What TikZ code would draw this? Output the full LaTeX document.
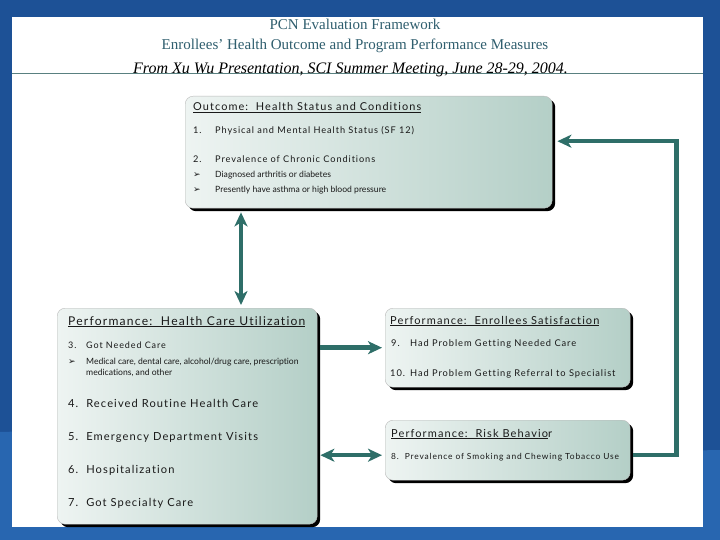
\documentclass[tikz,border=0pt]{standalone}
\usepackage{fontspec}
\setmainfont{Liberation Serif}
\newfontfamily\boxfont[LetterSpace=10,Ligatures={CommonOff,RareOff}]{Lato}
\newfontfamily\plainfont[Ligatures={CommonOff,RareOff}]{Lato}
\newfontfamily\symfont{DejaVu Sans}
\usepackage{tikz}
\usetikzlibrary{positioning,shadows,arrows.meta}
\definecolor{slideblue}{HTML}{1D5196}
\definecolor{lowblue}{HTML}{2866B0}
\definecolor{titleteal}{HTML}{2F5E6E}
\definecolor{boxlight}{HTML}{EEF4F2}
\definecolor{boxdark}{HTML}{B4CFC7}
\definecolor{linkteal}{HTML}{2E6E68}
\newcommand{\bul}{{\symfont\char"27A2}}

\begin{document}
\begin{tikzpicture}[x=1pt,y=-1pt]
\tikzstyle{panel}=[rectangle, rounded corners=8pt, draw=gray!55, thin, inner sep=0pt, anchor=north west, left color=boxlight, right color=boxdark, drop shadow={shadow xshift=3pt, shadow yshift=-3pt, fill=black, opacity=1}]
\tikzstyle{txt}=[anchor=base west, inner sep=0pt, text=black!90]
\tikzstyle{title}=[anchor=base, inner sep=0pt, text=titleteal, font=\fontsize{15}{17}\selectfont]
\tikzstyle{link}=[line width=4.5pt, draw=linkteal, {Stealth[length=14pt,width=13pt,inset=4pt]}-{Stealth[length=14pt,width=13pt,inset=4pt]}]
\tikzstyle{linkto}=[line width=4.5pt, draw=linkteal, -{Stealth[length=14pt,width=13pt,inset=4pt]}]
\useasboundingbox (0,0) rectangle (720,540);
% slide background
\fill[slideblue] (0,0) rectangle (720,540);
\fill[lowblue] (0,432) .. controls (250,425) and (500,455) .. (720,450) -- (720,540) -- (0,540) -- cycle;
\fill[white] (12,17) rectangle (703,527);
\draw[gray!70!teal, thin] (12,73) -- (703,73);

% titles
\node[title] (t1) at (355,30) {PCN Evaluation Framework};
\node[title] (t2) at (355,50) {Enrollees' Health Outcome and Program Performance Measures};
\node[anchor=base west, inner sep=0pt, font=\fontsize{16}{18}\selectfont\itshape] (src) at (133,74) {From Xu Wu Presentation, SCI Summer Meeting, June 28-29, 2004.};

% boxes
\node[panel, minimum width=367pt, minimum height=112pt] (outcome) at (185,96) {};
\node[panel, minimum width=260pt, minimum height=216pt] (util) at (57,308) {};
\node[panel, minimum width=245pt, minimum height=79pt] (sat) at (385,308) {};
\node[panel, minimum width=245pt, minimum height=60pt] (risk) at (385,420) {};

% outcome text
\node[txt, font=\boxfont\fontsize{10.9}{12}\selectfont] (ohead) at (193,111) {\underline{Outcome:\ \ Health Status and Conditions}};
\node[txt, font=\boxfont\fontsize{9.2}{10}\selectfont] (o1n) at (193,134) {1.};
\node[txt, font=\boxfont\fontsize{9.2}{10}\selectfont] (o1) at (215,134) {Physical and Mental Health Status (SF 12)};
\node[txt, font=\boxfont\fontsize{9.2}{10}\selectfont] (o2n) at (193,163) {2.};
\node[txt, font=\boxfont\fontsize{9.2}{10}\selectfont] (o2) at (215,163) {Prevalence of Chronic Conditions};
\node[txt, font=\fontsize{9}{9}\selectfont] (o2an) at (193,178) {\bul};
\node[txt, font=\plainfont\fontsize{8.6}{9}\selectfont] (o2a) at (215,178) {Diagnosed arthritis or diabetes};
\node[txt, font=\fontsize{9}{9}\selectfont] (o2bn) at (193,193) {\bul};
\node[txt, font=\plainfont\fontsize{8.6}{9}\selectfont] (o2b) at (215,193) {Presently have asthma or high blood pressure};

% utilization text
\node[txt, font=\boxfont\fontsize{12.1}{13}\selectfont] (uhead) at (68,325) {\underline{Performance:\ \ Health Care Utilization}};
\node[txt, font=\boxfont\fontsize{9}{10}\selectfont] (u3n) at (68,348) {3.};
\node[txt, font=\boxfont\fontsize{9}{10}\selectfont] (u3) at (86,348) {Got Needed Care};
\node[txt, font=\fontsize{9}{9}\selectfont] (u3an) at (68,364) {\bul};
\node[txt, font=\plainfont\fontsize{8.6}{9}\selectfont] (u3a) at (86,364) {Medical care, dental care, alcohol/drug care, prescription};
\node[txt, font=\plainfont\fontsize{8.6}{9}\selectfont] (u3b) at (86,375) {medications, and other};
\node[txt, font=\boxfont\fontsize{11.1}{12}\selectfont] (u4) at (68,407) {4.\ \ Received Routine Health Care};
\node[txt, font=\boxfont\fontsize{11.1}{12}\selectfont] (u5) at (68,440) {5.\ \ Emergency Department Visits};
\node[txt, font=\boxfont\fontsize{11.1}{12}\selectfont] (u6) at (68,473) {6.\ \ Hospitalization};
\node[txt, font=\boxfont\fontsize{11.1}{12}\selectfont] (u7) at (68,506) {7.\ \ Got Specialty Care};

% satisfaction text
\node[txt, font=\boxfont\fontsize{11}{12}\selectfont] (shead) at (390,324) {\underline{Performance:\ \ Enrollees Satisfaction}};
\node[txt, font=\boxfont\fontsize{9.3}{10}\selectfont] (s9n) at (391,346) {9.};
\node[txt, font=\boxfont\fontsize{9.3}{10}\selectfont] (s9) at (410,346) {Had Problem Getting Needed Care};
\node[txt, font=\boxfont\fontsize{9.3}{10}\selectfont] (s10n) at (390,376) {10.};
\node[txt, font=\boxfont\fontsize{9.3}{10}\selectfont] (s10) at (410,376) {Had Problem Getting Referral to Specialist};

% risk text
\node[txt, font=\boxfont\fontsize{11}{12}\selectfont] (rhead) at (391,437) {\underline{Performance:\ \ Risk Behavio}r};
\node[txt, font=\boxfont\fontsize{8.4}{9}\selectfont] (r8) at (391,459) {8.\ \ Prevalence of Smoking and Chewing Tobacco Use};

% connectors
\draw[link] ([xshift=56pt,yshift=-4pt]outcome.south west) -- ([xshift=184pt,yshift=3pt]util.north west);
\draw[linkto] ([xshift=3pt]util.east |- sat.west) -- ([xshift=-3pt]sat.west);
\draw[link] ([xshift=3pt,yshift=-5pt]util.east |- risk.west) -- ([xshift=-3pt,yshift=-5pt]risk.west);
\draw[linkto] ([xshift=3pt,yshift=-5pt]risk.east) -| ([xshift=46pt,yshift=11pt]outcome.east -| risk.east) -- ([xshift=5pt,yshift=11pt]outcome.east);
\end{tikzpicture}
\end{document}
